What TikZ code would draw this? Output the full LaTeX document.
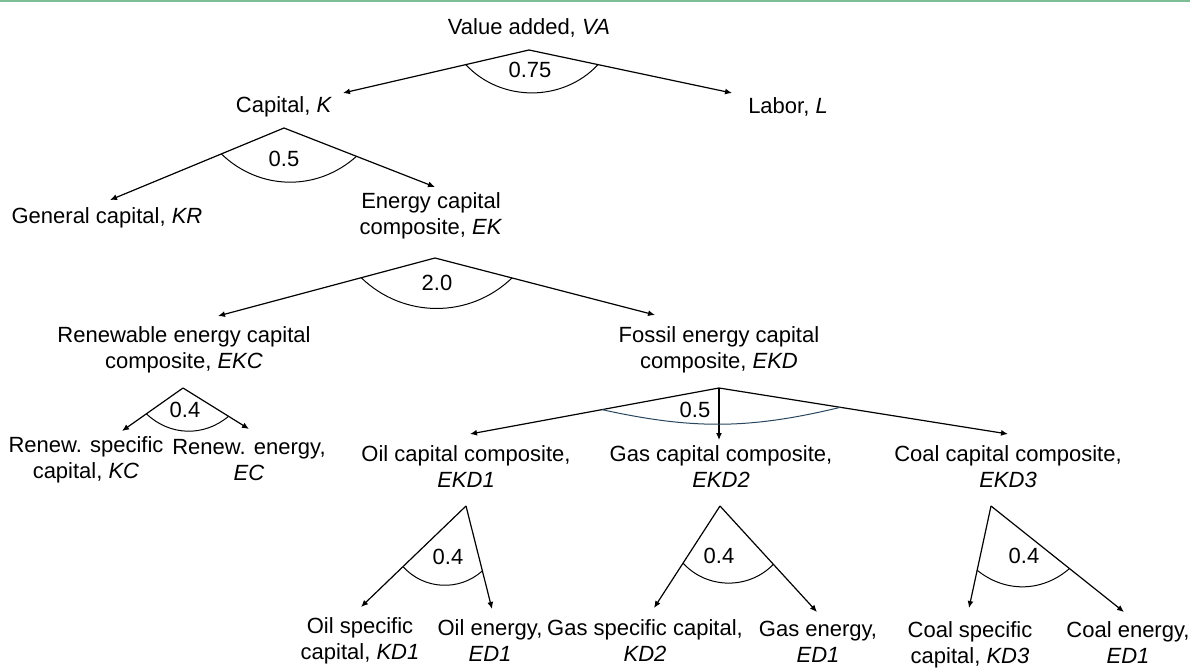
\documentclass[tikz,border=0pt]{standalone}
\usepackage{fontspec}
\setmainfont{Liberation Sans}
\usetikzlibrary{arrows.meta,calc}
\definecolor{topline}{RGB}{125,190,150}
\definecolor{arcblue}{RGB}{40,70,95}

\begin{document}
\begin{tikzpicture}[x=1pt,y=-1pt,
        lbl/.style={align=center,inner sep=0pt,font=\fontsize{22}{26}\selectfont},
        num/.style={inner sep=0pt,font=\fontsize{22}{26}\selectfont},
        arr/.style={-{Latex[length=7pt,width=6pt]},line width=1.2pt},
        sag/.style={line width=1pt}]
        \useasboundingbox (0,0) rectangle (1190,668);
        \fill[topline] (0,0) rectangle (1190,2);

        \node[lbl] (va) at (529,28) {Value added, \textit{VA}};
        \node[lbl] (k) at (284,107) {Capital, \textit{K}};
        \node[lbl] (l) at (788,107) {Labor, \textit{L}};
        \node[lbl] (kr) at (107,218) {General capital, \textit{KR}};
        \node[lbl] (ek) at (431,216) {Energy capital\\composite, \textit{EK}};
        \node[lbl] (ekc) at (184,350) {Renewable energy capital\\composite, \textit{EKC}};
        \node[lbl] (ekd) at (719,350) {Fossil energy capital\\composite, \textit{EKD}};
        \node[lbl] (kc) at (86,460) {Renew. specific\\capital, \textit{KC}};
        \node[lbl] (ec) at (249,460) {Renew. energy,\\\textit{EC}};
        \node[lbl] (ekd1) at (466,467) {Oil capital composite,\\\textit{EKD1}};
        \node[lbl] (ekd2) at (721,467) {Gas capital composite,\\\textit{EKD2}};
        \node[lbl] (ekd3) at (1008,467) {Coal capital composite,\\\textit{EKD3}};
        \node[lbl] (kd1) at (360,641) {Oil specific\\capital, \textit{KD1}};
        \node[lbl] (ed1a) at (490,641) {Oil energy,\\\textit{ED1}};
        \node[lbl] (kd2) at (645,641) {Gas specific capital,\\\textit{KD2}};
        \node[lbl] (ed1b) at (818,642) {Gas energy,\\\textit{ED1}};
        \node[lbl] (kd3) at (970,645) {Coal specific\\capital, \textit{KD3}};
        \node[lbl] (ed1c) at (1128,643) {Coal energy,\\\textit{ED1}};

        \coordinate (vaA) at (529,50);
        \coordinate (kIn) at (343,93);
        \coordinate (lIn) at (732,93);
        \coordinate (kA) at (284,128);
        \coordinate (krIn) at (110,200);
        \coordinate (ekIn) at (435,187);
        \coordinate (ekA) at (435,258);
        \coordinate (ekcIn) at (218,316);
        \coordinate (ekdIn) at (655,315);
        \coordinate (ekcA) at (183,388);
        \coordinate (kcIn) at (122,431);
        \coordinate (ecIn) at (249,429);
        \coordinate (ekdA) at (719,388);
        \coordinate (ekd1In) at (470,434);
        \coordinate (ekd2In) at (719,440);
        \coordinate (ekd3In) at (1008,434);
        \coordinate (ekd1A) at (466,506);
        \coordinate (kd1In) at (361,607);
        \coordinate (ed1aIn) at (492,609);
        \coordinate (ekd2A) at (720,506);
        \coordinate (kd2In) at (654,608);
        \coordinate (ed1bIn) at (817,612);
        \coordinate (ekd3A) at (991,506);
        \coordinate (kd3In) at (969,608);
        \coordinate (ed1cIn) at (1124,612);

        \path[arr]
            (vaA) edge (kIn) edge (lIn)
            (kA) edge (krIn) edge (ekIn)
            (ekA) edge (ekcIn) edge (ekdIn)
            (ekcA) edge (kcIn) edge (ecIn)
            (ekdA) edge (ekd1In) edge (ekd2In) edge (ekd3In)
            (ekd1A) edge (kd1In) edge (ed1aIn)
            (ekd2A) edge (kd2In) edge (ed1bIn)
            (ekd3A) edge (kd3In) edge (ed1cIn);

        \draw[sag] ($(vaA)!.34!(kIn)$) to[bend right=47] ($(vaA)!.34!(lIn)$);
        \draw[sag] ($(kA)!.36!(krIn)$) to[bend right=43] ($(kA)!.48!(ekIn)$);
        \draw[sag] ($(ekA)!.34!(ekcIn)$) to[bend right=44] ($(ekA)!.35!(ekdIn)$);
        \draw[sag] ($(ekcA)!.6!(kcIn)$) to[bend right=42] ($(ekcA)!.69!(ecIn)$);
        \draw[sag,arcblue] ($(ekdA)!.47!(ekd1In)$) to[bend right=13] ($(ekdA)!.42!(ekd3In)$);
        \draw[sag] ($(ekd1A)!.6!(kd1In)$) to[bend right=45] ($(ekd1A)!.63!(ed1aIn)$);
        \draw[sag] ($(ekd2A)!.56!(kd2In)$) to[bend right=47] ($(ekd2A)!.55!(ed1bIn)$);
        \draw[sag] ($(ekd3A)!.63!(kd3In)$) to[bend right=40] ($(ekd3A)!.59!(ed1cIn)$);

        \node[num] (sVA) at (530,70) {0.75};
        \node[num] (sK) at (284,159) {0.5};
        \node[num] (sEK) at (437,283) {2.0};
        \node[num] (sEKC) at (185,410) {0.4};
        \node[num] (sEKD) at (695,410) {0.5};
        \node[num] (sEKD1) at (448,557) {0.4};
        \node[num] (sEKD2) at (719,556) {0.4};
        \node[num] (sEKD3) at (1024,556) {0.4};
\end{tikzpicture}
\end{document}
